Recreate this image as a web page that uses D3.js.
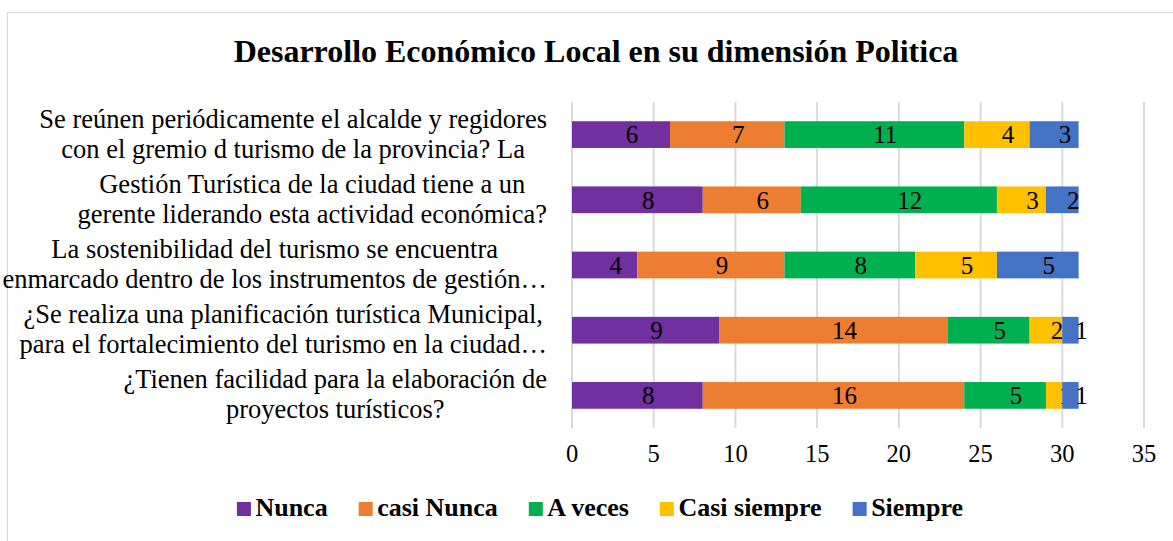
<!DOCTYPE html>
<html lang="es">
<head>
	<meta charset="UTF-8">
	<title>Desarrollo Económico Local</title>
	<style>
		body {
			margin: 0;
			background: #fff;
		}
		svg text {
			font-family: "Liberation Serif", "Times New Roman", serif;
			fill: #000;
		}
		.title {
			font-size: 32px;
			font-weight: bold;
		}
		.cat {
			font-size: 26.5px;
		}
		.tick {
			font-size: 24.5px;
		}
		.val {
			font-size: 25px;
		}
		.legend text {
			font-size: 26px;
			font-weight: bold;
		}
	</style>
</head>
<body>
	<svg id="chart"></svg>
<script src="https://cdnjs.cloudflare.com/ajax/libs/d3/7.8.5/d3.min.js"></script>
<script>
	const width = 1173,
		height = 541;

	// categories, top to bottom, as the wrapped lines shown in the chart
	const categories = [
		['Se reúnen periódicamente el alcalde y regidores', 'con el gremio d turismo de la provincia? La'],
		['Gestión Turística de la ciudad tiene a un', 'gerente liderando esta actividad económica?'],
		['La sostenibilidad del turismo se encuentra', 'enmarcado dentro de los instrumentos de gestión…'],
		['¿Se realiza una planificación turística Municipal,', 'para el fortalecimiento del turismo en la ciudad…'],
		['¿Tienen facilidad para la elaboración de', 'proyectos turísticos?']
	];
	const seriesNames = ['Nunca', 'casi Nunca', 'A veces', 'Casi siempre', 'Siempre'];
	const nunca       = [6, 8, 4, 9, 8];
	const casiNunca   = [7, 6, 9, 14, 16];
	const aVeces      = [11, 12, 8, 5, 5];
	const casiSiempre = [4, 3, 5, 2, 1];
	const siempre     = [3, 2, 5, 1, 1];
	const xTicks = [0, 5, 10, 15, 20, 25, 30, 35];
	const colors = ['#7030a0', '#ed7d31', '#00b050', '#ffc000', '#4472c4'];

	const seriesValues = [nunca, casiNunca, aVeces, casiSiempre, siempre];
	const rows = categories.map((c, i) => {
		const r = { idx: i };
		seriesNames.forEach((s, j) => r[s] = seriesValues[j][i]);
		return r;
	});

	const plot = { left: 572, right: 1144, top: 102, bottom: 428 };

	const svg = d3.select('#chart')
		.attr('width', width)
		.attr('height', height);

	svg.append('rect')
		.attr('x', 7.5).attr('y', 12.5)
		.attr('width', 1200).attr('height', 600)
		.attr('fill', '#fff')
		.attr('stroke', '#d9d9d9')
		.attr('stroke-width', 1.2);

	svg.append('text')
		.attr('class', 'title')
		.attr('x', 596).attr('y', 62)
		.attr('text-anchor', 'middle')
		.text('Desarrollo Económico Local en su dimensión Politica');

	const x = d3.scaleLinear()
		.domain([0, 35])
		.range([plot.left, plot.right]);
	const y = d3.scaleBand()
		.domain(rows.map(d => d.idx))
		.range([plot.top, plot.bottom])
		.paddingInner(0.59)
		.paddingOuter(0.295);

	// grid lines
	svg.append('g')
		.selectAll('line')
		.data(xTicks)
		.join('line')
		.attr('x1', d => x(d)).attr('x2', d => x(d))
		.attr('y1', plot.top).attr('y2', plot.bottom)
		.attr('stroke', '#d9d9d9')
		.attr('stroke-width', 2);

	// x tick labels
	svg.append('g')
		.selectAll('text')
		.data(xTicks)
		.join('text')
		.attr('class', 'tick')
		.attr('x', d => x(d))
		.attr('y', 462)
		.attr('text-anchor', 'middle')
		.text(d => d);

	const stacked = d3.stack().keys(seriesNames)(rows);

	const layers = svg.append('g')
		.selectAll('g')
		.data(stacked)
		.join('g')
		.attr('fill', (d, i) => colors[i]);

	layers.selectAll('rect')
		.data(d => d)
		.join('rect')
		.attr('x', d => x(d[0]))
		.attr('y', d => y(d.data.idx))
		.attr('width', d => x(d[1]) - x(d[0]))
		.attr('height', y.bandwidth());

	layers.selectAll('text')
		.data(d => d)
		.join('text')
		.attr('class', 'val')
		.attr('fill', '#000')
		.attr('x', d => (x(d[0]) + x(d[1])) / 2 + 11)
		.attr('y', d => y(d.data.idx) + y.bandwidth() / 2)
		.attr('dy', '0.35em')
		.attr('text-anchor', 'middle')
		.text(d => d[1] - d[0]);

	// category labels: block right-aligned, lines centred inside it
	const labelRight = 547;
	const catGroups = svg.append('g')
		.selectAll('g')
		.data(rows)
		.join('g');
	catGroups.each(function(d) {
		const g = d3.select(this);
		const cy = y(d.idx) + y.bandwidth() / 2;
		const lines = categories[d.idx];
		const texts = lines.map((t, k) => g.append('text')
			.attr('class', 'cat')
			.attr('y', cy - 7 + k * 30)
			.attr('text-anchor', 'middle')
			.text(t));
		const maxW = d3.max(texts, t => t.node().getComputedTextLength());
		texts.forEach(t => t.attr('x', labelRight - maxW / 2));
	});

	// legend
	const legend = svg.append('g').attr('class', 'legend');
	let lx = 0;
	seriesNames.forEach((s, i) => {
		legend.append('rect')
			.attr('x', lx).attr('y', 502)
			.attr('width', 14).attr('height', 14)
			.attr('fill', colors[i]);
		const t = legend.append('text')
			.attr('x', lx + 18.5)
			.attr('y', 516)
			.text(s);
		lx += 18.5 + t.node().getComputedTextLength() + 31;
	});
	lx -= 31;
	legend.attr('transform', `translate(${600 - lx / 2},0)`);
</script>
</body>
</html>
